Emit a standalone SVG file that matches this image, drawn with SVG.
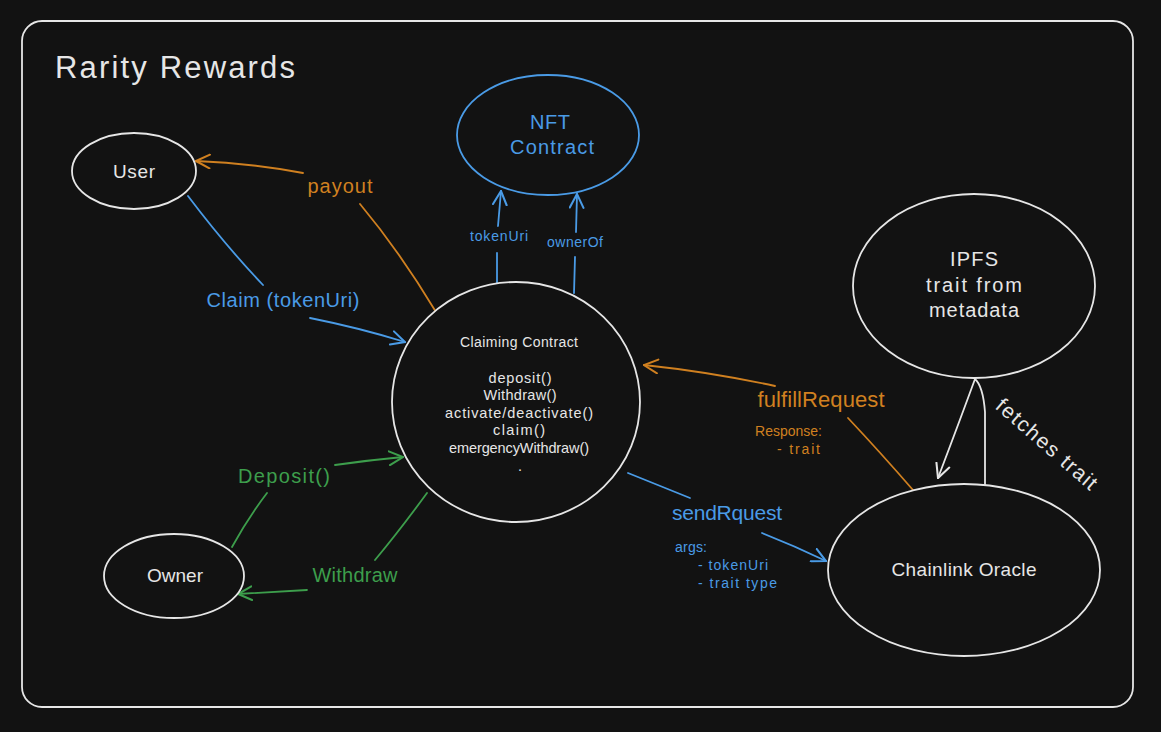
<svg xmlns="http://www.w3.org/2000/svg" width="1161" height="732" viewBox="0 0 1161 732">
<style>
.bg{fill:#121212}
.node{fill:#121212;stroke:#e6e6e6;stroke-width:1.8}
.nodeb{fill:#121212;stroke:#4a9be6;stroke-width:1.8}
.t{font-family:"Liberation Sans",Arial,sans-serif;fill:#e6e6e6;text-anchor:middle}
.tb{fill:#4a9be6}
.to{fill:#d08020}
.tg{fill:#3d9e4c}
.cb{fill:none;stroke:#4a9be6;stroke-width:1.8;stroke-linecap:round}
.co{fill:none;stroke:#d08020;stroke-width:1.8;stroke-linecap:round}
.cg{fill:none;stroke:#3d9e4c;stroke-width:1.8;stroke-linecap:round}
.cw{fill:none;stroke:#e6e6e6;stroke-width:1.8;stroke-linecap:round}
</style>
<defs>
<marker id="ab" viewBox="0 0 14 14" refX="13" refY="7" markerWidth="16" markerHeight="16" markerUnits="userSpaceOnUse" orient="auto"><path d="M1,1 L13,7 L1,13" fill="none" stroke="#4a9be6" stroke-width="1.8" stroke-linecap="round"/></marker>
<marker id="ao" viewBox="0 0 14 14" refX="13" refY="7" markerWidth="16" markerHeight="16" markerUnits="userSpaceOnUse" orient="auto"><path d="M1,1 L13,7 L1,13" fill="none" stroke="#d08020" stroke-width="1.8" stroke-linecap="round"/></marker>
<marker id="ag" viewBox="0 0 14 14" refX="13" refY="7" markerWidth="16" markerHeight="16" markerUnits="userSpaceOnUse" orient="auto"><path d="M1,1 L13,7 L1,13" fill="none" stroke="#3d9e4c" stroke-width="1.8" stroke-linecap="round"/></marker>
<marker id="aw" viewBox="0 0 14 14" refX="13" refY="7" markerWidth="16" markerHeight="16" markerUnits="userSpaceOnUse" orient="auto"><path d="M1,1 L13,7 L1,13" fill="none" stroke="#e6e6e6" stroke-width="1.8" stroke-linecap="round"/></marker>
</defs>
<rect class="bg" x="0" y="0" width="1161" height="732"/>
<g id="frame">
<rect x="22" y="21" width="1111" height="686" rx="20" ry="20" fill="none" stroke="#e6e6e6" stroke-width="1.8"/>
<text class="t" x="55" y="78" font-size="31" style="text-anchor:start" textLength="240">Rarity Rewards</text>
</g>
<g id="connectors">
<path class="cb" d="M497,290 L497,253"/>
<path class="cb" d="M498,226 L501,191" marker-end="url(#ab)"/>
<text class="t tb" x="499" y="241" font-size="14" textLength="58">tokenUri</text>
<path class="cb" d="M574,293 L575,257"/>
<path class="cb" d="M576,232 L577,194" marker-end="url(#ab)"/>
<text class="t tb" x="575" y="247" font-size="14" textLength="56">ownerOf</text>
<path class="co" d="M436,312 Q400,252 360,204"/>
<path class="co" d="M303,173 Q250,163 196,161" marker-end="url(#ao)"/>
<text class="t to" x="340" y="193" font-size="20" textLength="65">payout</text>
<path class="cb" d="M188,196 Q225,245 263,285"/>
<path class="cb" d="M310,318 Q360,328 405,342" marker-end="url(#ab)"/>
<text class="t tb" x="283" y="307" font-size="20" textLength="153">Claim (tokenUri)</text>
<path class="cg" d="M232,547 Q248,518 267,493"/>
<path class="cg" d="M335,465 Q370,460 403,457" marker-end="url(#ag)"/>
<text class="t tg" x="284" y="483" font-size="20" textLength="92">Deposit()</text>
<path class="cg" d="M427,493 Q400,530 375,560"/>
<path class="cg" d="M307,590 Q270,592 238,594" marker-end="url(#ag)"/>
<text class="t tg" x="355" y="582" font-size="20" textLength="85">Withdraw</text>
<path class="co" d="M913,490 Q880,452 848,418"/>
<path class="co" d="M775,386 Q710,372 644,365" marker-end="url(#ao)"/>
<text class="t to" x="821" y="407" font-size="22" textLength="127">fulfillRequest</text>
<text class="t to" x="755" y="436" font-size="14" style="text-anchor:start" textLength="67">Response:</text>
<text class="t to" x="777" y="454" font-size="14" style="text-anchor:start" textLength="43">- trait</text>
<path class="cb" d="M628,473 Q660,486 690,498"/>
<path class="cb" d="M762,533 Q795,546 826,561" marker-end="url(#ab)"/>
<text class="t tb" x="727" y="520" font-size="21" textLength="110">sendRquest</text>
<text class="t tb" x="675" y="552" font-size="14" style="text-anchor:start" textLength="32">args:</text>
<text class="t tb" x="698" y="570" font-size="14" style="text-anchor:start" textLength="70">- tokenUri</text>
<text class="t tb" x="698" y="588" font-size="14" style="text-anchor:start" textLength="79">- trait type</text>
<path class="cw" d="M985,485 L985,412 Q983,386 975,379 Q960,420 938,478" marker-end="url(#aw)"/>
<text class="t" x="1046" y="451" font-size="21" transform="rotate(41 1046 445)" textLength="127">fetches trait</text>
</g>
<g id="user">
<ellipse class="node" cx="134" cy="171" rx="62" ry="38"/>
<text class="t" x="134" y="178" font-size="19" textLength="42">User</text>
</g>
<g id="nft-contract">
<ellipse class="nodeb" cx="548" cy="135" rx="91" ry="60"/>
<text class="t tb" x="550" y="129" font-size="20" textLength="40">NFT</text>
<text class="t tb" x="552" y="154" font-size="20" textLength="84">Contract</text>
</g>
<g id="claiming-contract">
<ellipse class="node" cx="516" cy="402" rx="124" ry="120"/>
<text class="t" x="519" y="347" font-size="14" textLength="118">Claiming Contract</text>
<text class="t" x="520" y="383" font-size="14.5" textLength="63">deposit()</text>
<text class="t" x="520" y="400" font-size="14.5" textLength="73">Withdraw()</text>
<text class="t" x="519" y="418" font-size="14.5" textLength="148">activate/deactivate()</text>
<text class="t" x="519" y="435" font-size="14.5" textLength="52">claim()</text>
<text class="t" x="519" y="453" font-size="14.5" textLength="140">emergencyWithdraw()</text>
<text class="t" x="520" y="471" font-size="14.5">.</text>
</g>
<g id="ipfs">
<ellipse class="node" cx="974" cy="286" rx="121" ry="92"/>
<text class="t" x="974" y="266" font-size="20" textLength="48">IPFS</text>
<text class="t" x="974" y="292" font-size="20" textLength="96">trait from</text>
<text class="t" x="974" y="317" font-size="20" textLength="90">metadata</text>
</g>
<g id="chainlink-oracle">
<ellipse class="node" cx="964" cy="570" rx="136" ry="86"/>
<text class="t" x="964" y="576" font-size="19" textLength="145">Chainlink Oracle</text>
</g>
<g id="owner">
<ellipse class="node" cx="174" cy="576" rx="70" ry="42"/>
<text class="t" x="175" y="582" font-size="19" textLength="56">Owner</text>
</g>
</svg>
